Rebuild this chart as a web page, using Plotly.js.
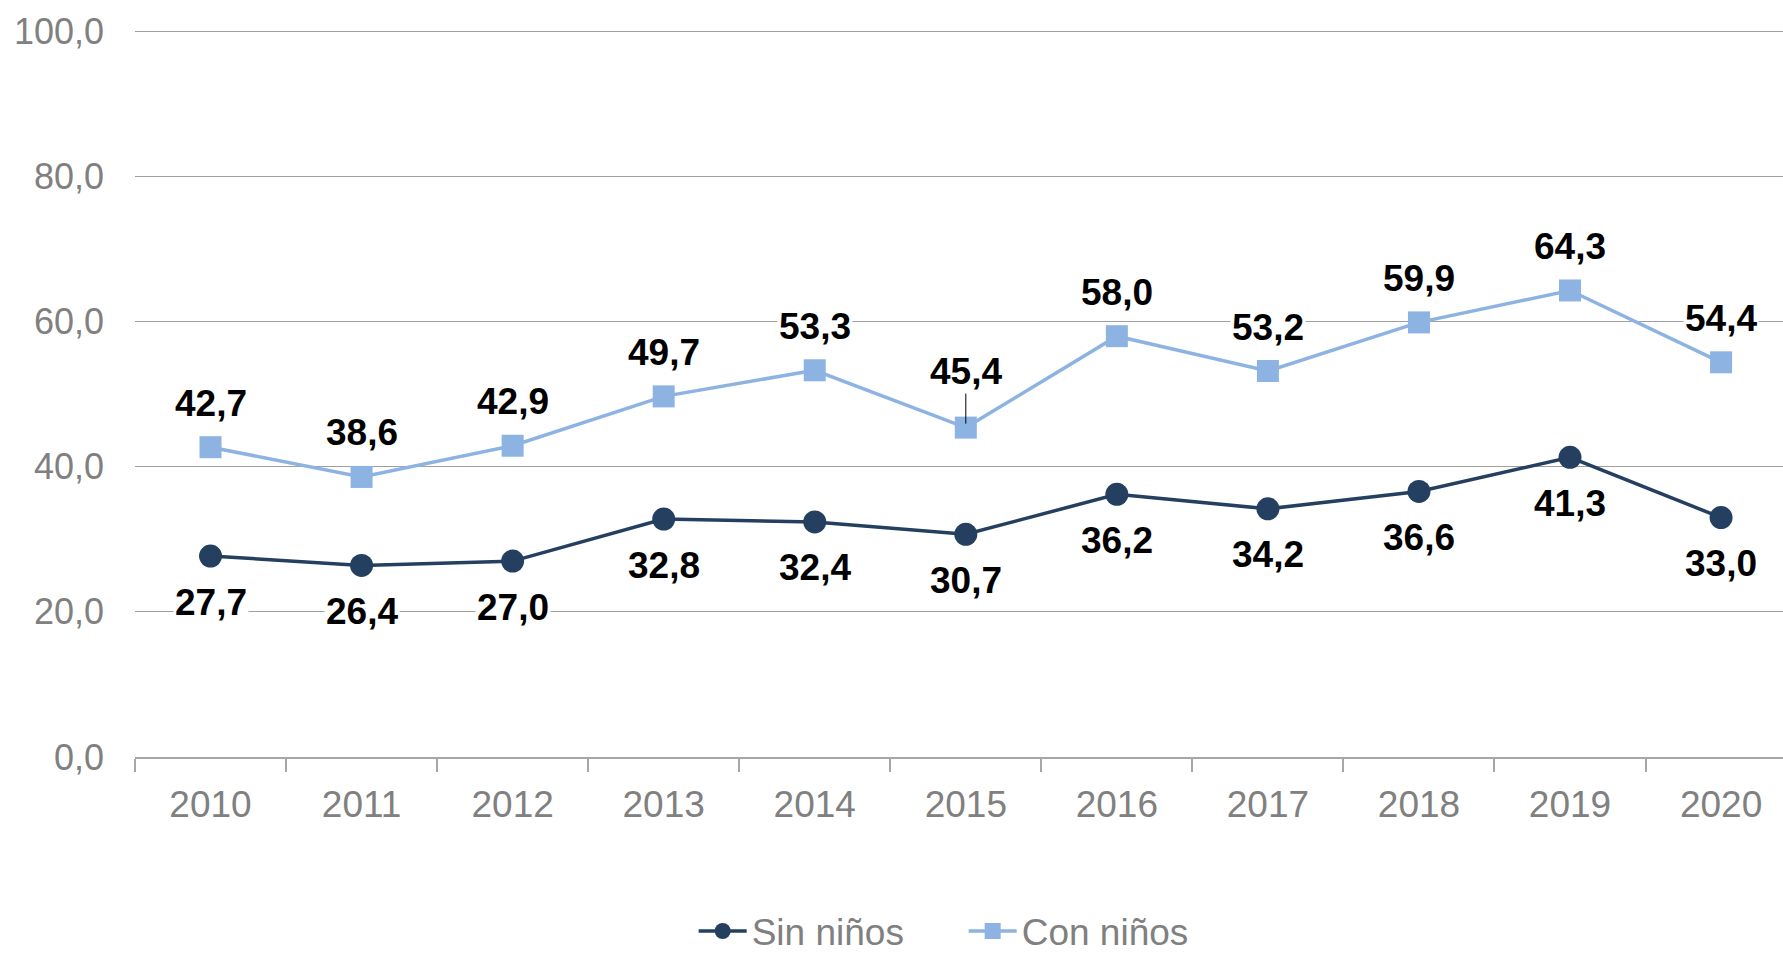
<!DOCTYPE html>
<html>
<head>
<meta charset="utf-8">
<script src="https://cdn.plot.ly/plotly-3.0.1.min.js"></script>
<style>html,body{margin:0;padding:0;background:#fff;}#chart{width:1783px;height:953px;}</style>
</head>
<body>
<div id="chart"></div>
<script>
const years = ['2010','2011','2012','2013','2014','2015','2016','2017','2018','2019','2020'];
const sinNinos = [27.7, 26.4, 27.0, 32.8, 32.4, 30.7, 36.2, 34.2, 36.6, 41.3, 33.0];
const conNinos = [42.7, 38.6, 42.9, 49.7, 53.3, 45.4, 58.0, 53.2, 59.9, 64.3, 54.4];
const yTicks = [0, 20, 40, 60, 80, 100];

const FONT = 'Liberation Sans, Arial, sans-serif';
const DARK = '#243F60';
const LIGHT = '#8DB3E2';
const GRAY = '#808080';

function fmt(v){ return v.toFixed(1).replace('.', ','); }

const traces = [
  {
    x: years, y: sinNinos, name: 'Sin niños', type: 'scatter', mode: 'lines+markers',
    line: {color: DARK, width: 3.5},
    marker: {symbol: 'circle', size: 23, color: DARK}
  },
  {
    x: years, y: conNinos, name: 'Con niños', type: 'scatter', mode: 'lines+markers',
    line: {color: LIGHT, width: 3.5},
    marker: {symbol: 'square', size: 22, color: LIGHT}
  }
];

const labelFont = {family: FONT, size: 37, color: '#000000', weight: 'bold'};
const annotations = [];
years.forEach((yr, i) => {
  annotations.push({
    x: i, y: sinNinos[i], xref: 'x', yref: 'y', text: fmt(sinNinos[i]),
    showarrow: false, yshift: -46, bgcolor: '#ffffff', borderpad: 1,
    font: labelFont
  });
  if (yr === '2015') {
    annotations.push({
      x: i, y: conNinos[i], xref: 'x', yref: 'y', text: fmt(conNinos[i]),
      showarrow: true, arrowhead: 0, arrowwidth: 1, arrowcolor: '#000000',
      ax: 0, ay: -56, standoff: 4, bgcolor: '#ffffff', borderpad: 1,
      font: labelFont
    });
  } else {
    annotations.push({
      x: i, y: conNinos[i], xref: 'x', yref: 'y', text: fmt(conNinos[i]),
      showarrow: false, yshift: 44, bgcolor: '#ffffff', borderpad: 1,
      font: labelFont
    });
  }
});

const layout = {
  width: 1783, height: 953,
  paper_bgcolor: '#ffffff', plot_bgcolor: '#ffffff',
  margin: {l: 135, r: 0, t: 30, b: 196, autoexpand: false},
  separators: ',.',
  font: {family: FONT, size: 37, color: GRAY},
  showlegend: true,
  legend: {
    orientation: 'h', x: 0.339, xanchor: 'left', y: -0.24, yanchor: 'middle',
    font: {family: FONT, size: 37, color: GRAY}, itemwidth: 48, entrywidth: 207
  },
  xaxis: {
    type: 'category', range: [-0.5, 10.41],
    showline: true, linecolor: '#a6a6a6', linewidth: 1.5,
    ticks: 'outside', tickson: 'boundaries', ticklen: 13, tickcolor: '#a6a6a6', tickwidth: 1.5,
    showgrid: false, zeroline: false, ticklabelstandoff: 14,
    tickfont: {family: FONT, size: 37, color: GRAY}
  },
  yaxis: {
    range: [0, 100.2], tickvals: yTicks, tickformat: '.1f',
    showgrid: true, gridcolor: '#a0a0a0', gridwidth: 1.2,
    showline: false, zeroline: false, ticks: '',
    ticklabelstandoff: 30,
    tickfont: {family: FONT, size: 36, color: GRAY}
  },
  annotations: annotations
};

Plotly.newPlot('chart', traces, layout, {displayModeBar: false, responsive: false});
</script>
</body>
</html>
